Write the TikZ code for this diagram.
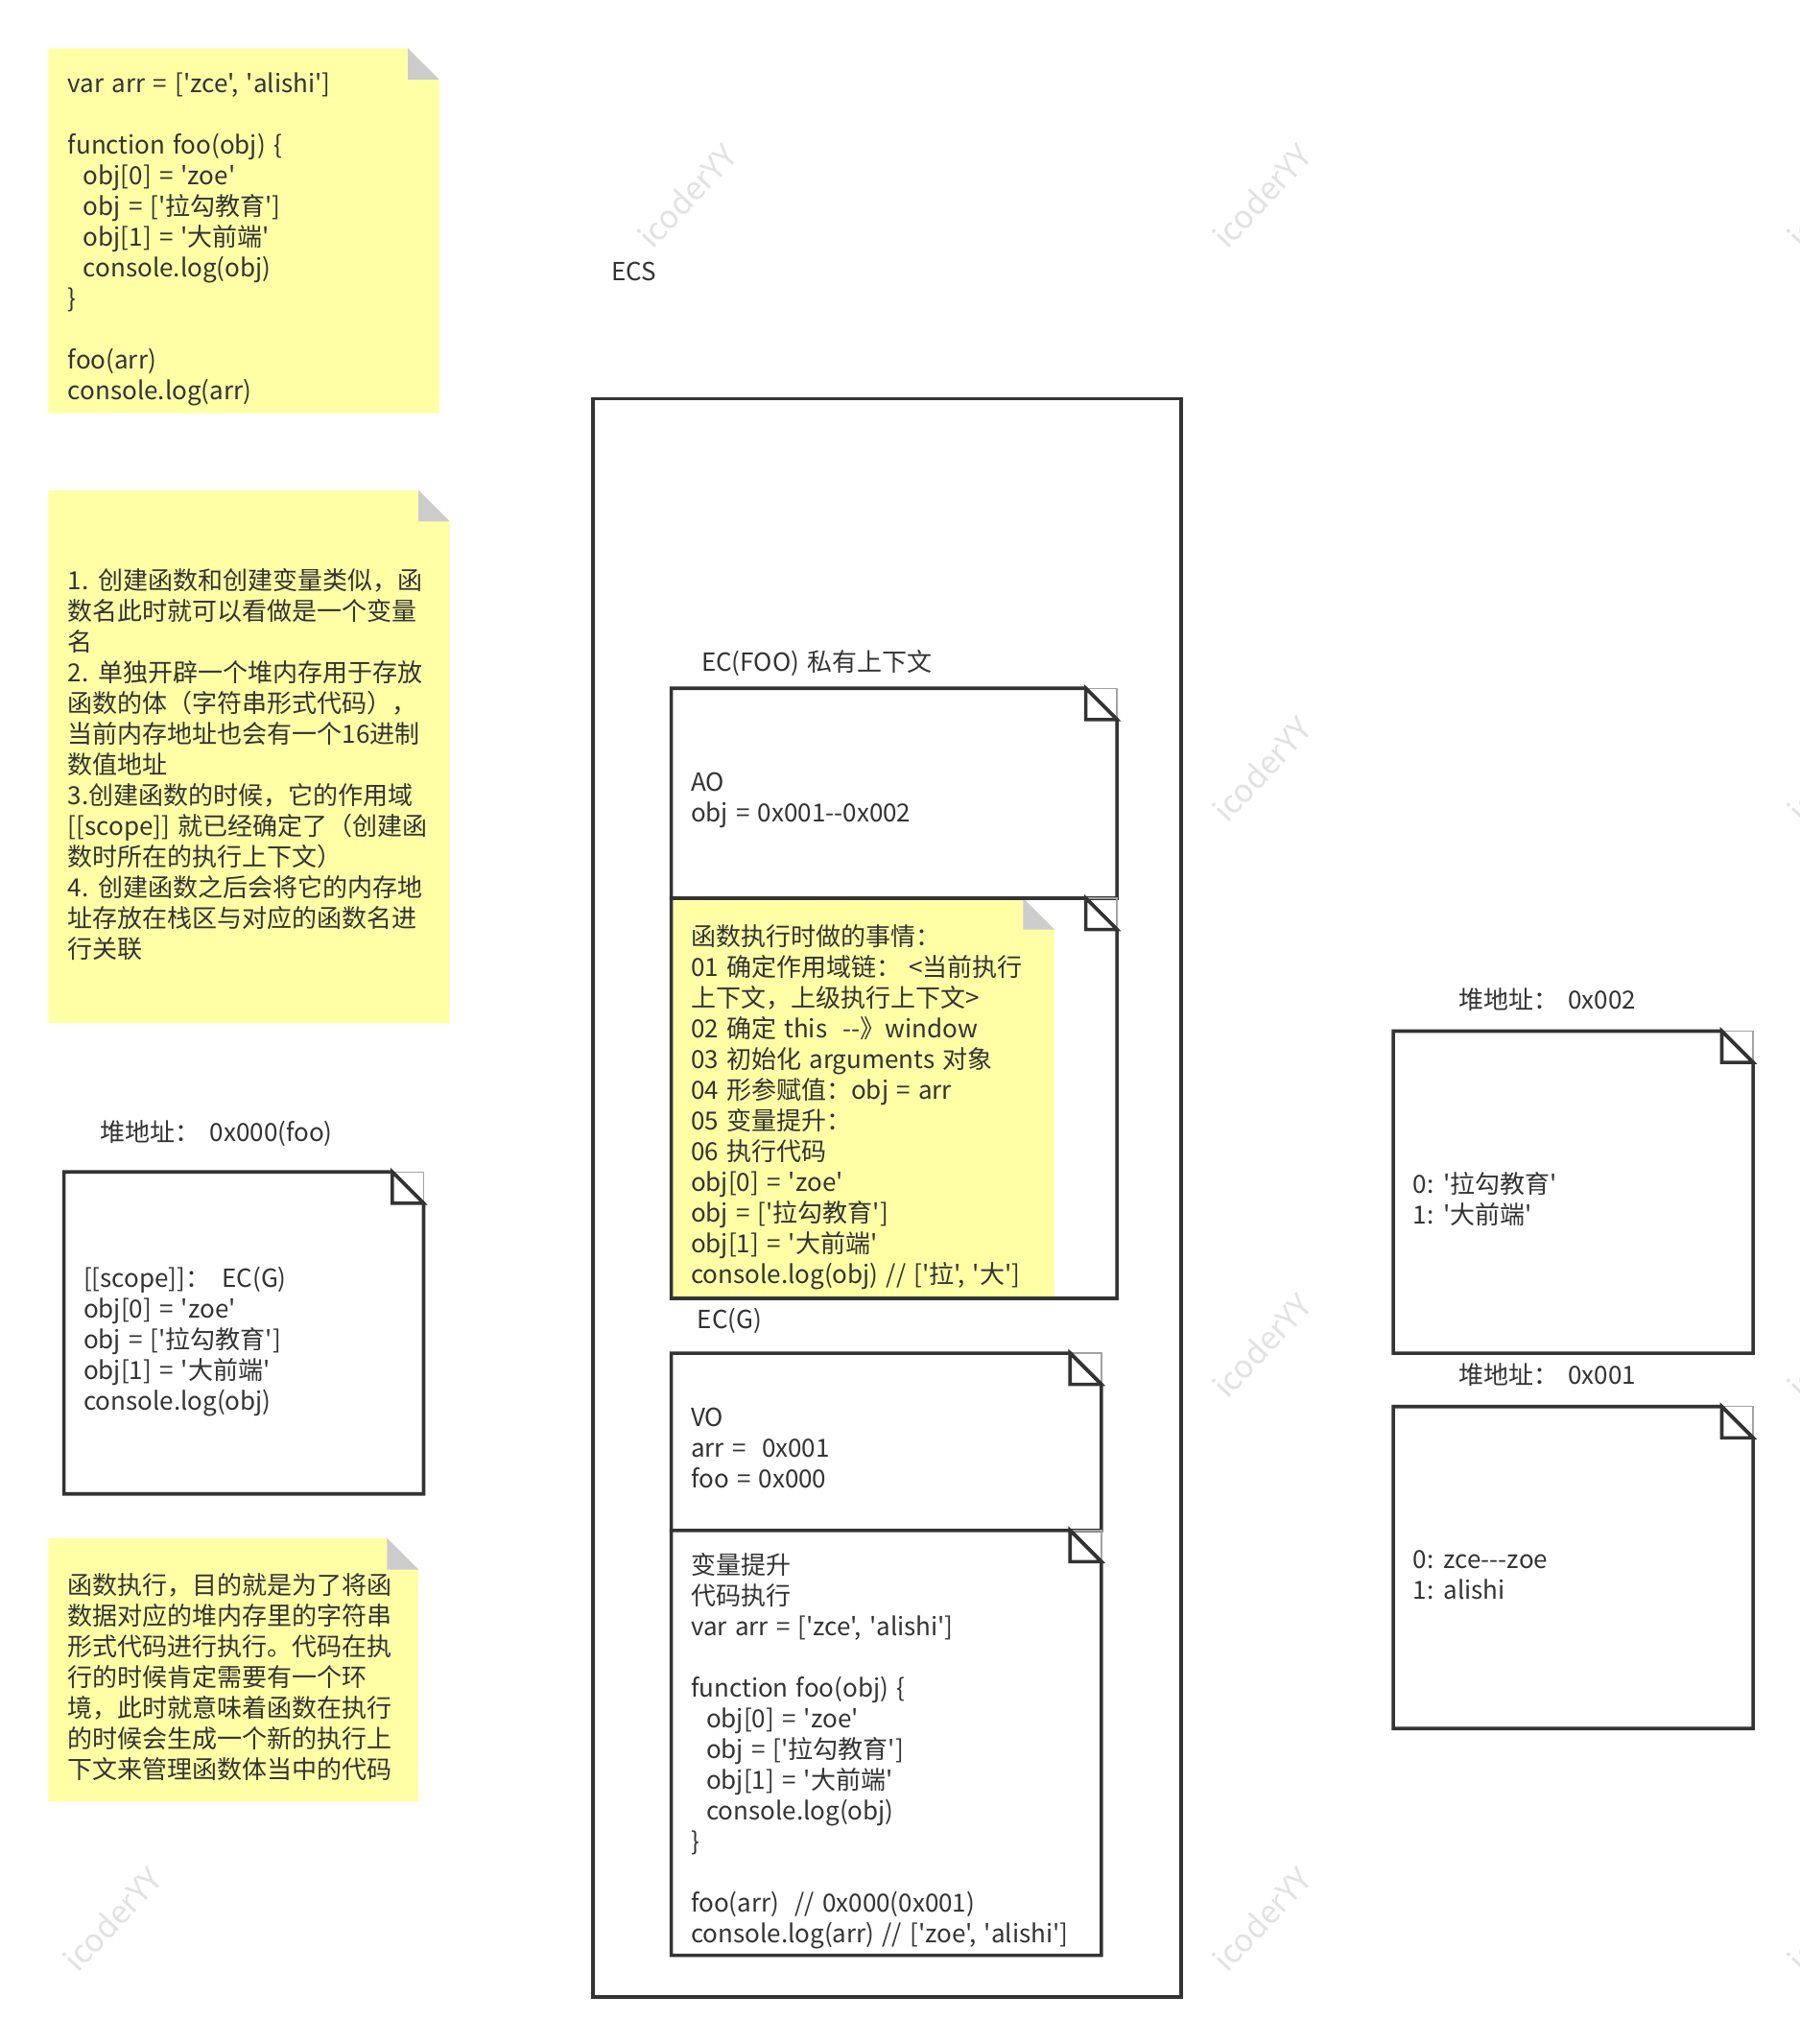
\documentclass[tikz,border=0pt]{standalone}
\usepackage{fontspec}
\setmainfont{Noto Sans CJK SC}[Ligatures=TeXOff]
\definecolor{ink}{HTML}{333333}
\definecolor{notey}{HTML}{FFFFA6}
\definecolor{foldg}{HTML}{CCCCCC}
\definecolor{wmk}{HTML}{E2E2E2}
\newcommand\txtfont{\fontsize{26}{32}\selectfont\setlength{\spaceskip}{8.2pt}}
\tikzset{
  boxline/.style={draw=ink, line width=3.6pt, line join=miter},
  foldedge/.style={draw=ink!45, line width=1.4pt},
  txt/.style={anchor=west, align=left, inner sep=0pt, yshift=-3.5pt, text=ink, font=\txtfont},
  wmark/.style={rotate=47, inner sep=0pt, text=wmk, font=\fontsize{33}{38}\selectfont}
}
\newcommand\outlinebox[6]{%
  \coordinate (#1) at (#2,#3);
  \draw[foldedge] ({#4-24},#3) -- (#4,#3) -- (#4,{#3+24});
  \draw[boxline, fill=#6] (#2,#3) -- ({#4-24},#3) -- (#4,{#3+24}) -- (#4,#5) -- (#2,#5) -- cycle;
  \draw[boxline, fill=white] ({#4-24},#3) -- ({#4-24},{#3+24}) -- (#4,{#3+24}) -- cycle;
}
\newcommand\yellownote[5]{%
  \coordinate (#1) at (#2,#3);
  \fill[notey] (#2,#3) -- ({#4-24},#3) -- (#4,{#3+24}) -- (#4,#5) -- (#2,#5) -- cycle;
  \fill[foldg] ({#4-24},#3) -- ({#4-24},{#3+24}) -- (#4,{#3+24}) -- cycle;
}
\begin{document}
\begin{tikzpicture}[x=1.35843pt, y=-1.35843pt]
\useasboundingbox[fill=white] (0,0) rectangle (1381,1568);
\begin{scope}
\clip (0,0) rectangle (1381,1568);
\node[wmark] (w1) at (527,150) {icoderYY};
\node[wmark] (w2) at (968,150) {icoderYY};
\node[wmark] (w3) at (968,590) {icoderYY};
\node[wmark] (w4) at (968,1032) {icoderYY};
\node[wmark] (w5) at (968,1472) {icoderYY};
\node[wmark] (w6) at (86,1472) {icoderYY};
\node[wmark] (w7) at (1409,150) {icoderYY};
\node[wmark] (w8) at (1409,590) {icoderYY};
\node[wmark] (w9) at (1409,1032) {icoderYY};
\node[wmark] (w10) at (1409,1472) {icoderYY};
\end{scope}

% ECS stack
\draw[boxline, fill=white] (455,306) rectangle (906,1532);
\coordinate (ecs) at (455,306);
\node[txt] (ecslabel) at (469,206) {ECS};

% yellow notes on the left
\yellownote{n1}{37}{37}{337}{317}
\yellownote{n2}{37}{376}{345}{785}
\yellownote{n3}{37}{1180}{321}{1382}

\node[txt] (n1t) at (52,181) {var arr = ['zce', 'alishi']\\
\\
function foo(obj) \{\\
\hspace*{16pt}obj[0] = 'zoe'\\
\hspace*{16pt}obj = ['拉勾教育']\\
\hspace*{16pt}obj[1] = '大前端'\\
\hspace*{16pt}console.log(obj)\\
\}\\
\\
foo(arr)\\
console.log(arr)};

\node[txt] (n2t) at (52,584) {1. 创建函数和创建变量类似，函\\
数名此时就可以看做是一个变量\\
名\\
2. 单独开辟一个堆内存用于存放\\
函数的体（字符串形式代码），\\
当前内存地址也会有一个16进制\\
数值地址\\
3.创建函数的时候，它的作用域\\
{}[[scope]] 就已经确定了（创建函\\
数时所在的执行上下文）\\
4. 创建函数之后会将它的内存地\\
址存放在栈区与对应的函数名进\\
行关联};

\node[txt] (n3t) at (52,1284) {函数执行，目的就是为了将函\\
数据对应的堆内存里的字符串\\
形式代码进行执行。代码在执\\
行的时候肯定需要有一个环\\
境，此时就意味着函数在执行\\
的时候会生成一个新的执行上\\
下文来管理函数体当中的代码};

% heap foo
\node[txt] (hfl) at (77,867) {堆地址：\hspace{10pt}0x000(foo)};
\outlinebox{hfoo}{49}{899}{325}{1146}{white}
\node[txt] (hfoot) at (64,1026.5) {[[scope]]：\hspace{12pt}EC(G)\\
obj[0] = 'zoe'\\
obj = ['拉勾教育']\\
obj[1] = '大前端'\\
console.log(obj)};

% EC(FOO)
\node[txt] (ecfl) at (538,506) {EC(FOO) 私有上下文};
\outlinebox{ao}{515}{528}{857}{689}{white}
\node[txt] (aot) at (530,611) {AO\\obj = 0x001--0x002};
\yellownote{n4}{515}{689}{809}{996}
\outlinebox{foob}{515}{689}{857}{996}{none}
\node[txt] (n4t) at (530,846.5) {函数执行时做的事情：\\
01 确定作用域链：\ <当前执行\\
上下文，上级执行上下文>\\
02 确定 this\ \ --》window\\
03 初始化 arguments 对象\\
04 形参赋值：obj = arr\\
05 变量提升：\\
06 执行代码\\
obj[0] = 'zoe'\\
obj = ['拉勾教育']\\
obj[1] = '大前端'\\
console.log(obj) // ['拉', '大']};

% EC(G)
\node[txt] (ecgl) at (535,1011) {EC(G)};
\outlinebox{vo}{515}{1038}{845}{1174}{white}
\node[txt] (vot) at (530,1108) {VO\\arr =\ \ 0x001\\foo = 0x000};
\outlinebox{gcode}{515}{1174}{845}{1500}{white}
\node[txt] (gcodet) at (530,1340.5) {变量提升\\
代码执行\\
var arr = ['zce', 'alishi']\\
\\
function foo(obj) \{\\
\hspace*{16pt}obj[0] = 'zoe'\\
\hspace*{16pt}obj = ['拉勾教育']\\
\hspace*{16pt}obj[1] = '大前端'\\
\hspace*{16pt}console.log(obj)\\
\}\\
\\
foo(arr)\ \ // 0x000(0x001)\\
console.log(arr) // ['zoe', 'alishi']};

% heaps on the right
\node[txt] (h2l) at (1119,764) {堆地址：\hspace{10pt}0x002};
\outlinebox{h2}{1069}{791}{1345}{1038}{white}
\node[txt] (h2t) at (1084,917) {0: '拉勾教育'\\1: '大前端'};
\node[txt] (h1l) at (1119,1052) {堆地址：\hspace{10pt}0x001};
\outlinebox{h1}{1069}{1079}{1345}{1326}{white}
\node[txt] (h1t) at (1084,1205.5) {0: zce---zoe\\1: alishi};
\end{tikzpicture}
\end{document}
